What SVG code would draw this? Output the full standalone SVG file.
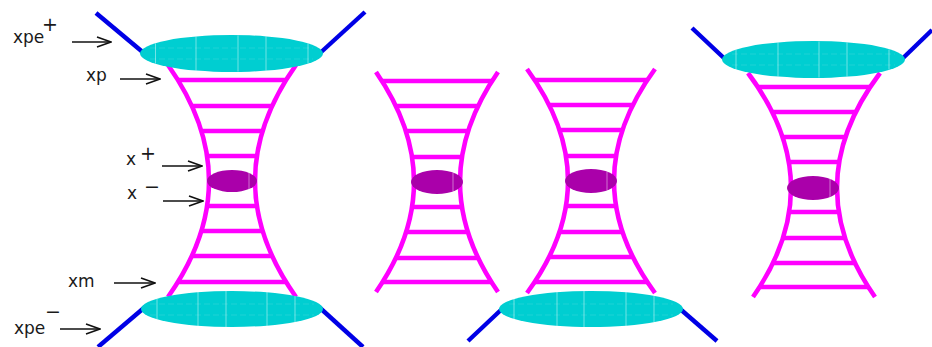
<svg xmlns="http://www.w3.org/2000/svg" width="932" height="347" viewBox="0 0 932 347">
<style>
.rail{fill:none;stroke:#FF00FF;stroke-width:4.6}
.rung{stroke:#FF00FF;stroke-width:4.4}
.leg{stroke:#0000E6;stroke-width:4.4;fill:none}
.blob{fill:#00CED1}
.grid{stroke:#FFFFFF;stroke-opacity:0.45;stroke-width:1}
.gridh{stroke:#FFFFFF;stroke-opacity:0.12;stroke-width:1;stroke-dasharray:6 3}
.core{fill:#AA00AA}
.lbl{font-family:"DejaVu Sans","Liberation Sans",sans-serif;font-size:17px;fill:#1a1a1a}
.sup{font-family:"DejaVu Sans","Liberation Sans",sans-serif;font-size:19px;fill:#1a1a1a}
.arw{stroke:#111;stroke-width:1.6;fill:none;marker-end:url(#arr)}
</style>
<defs>
<marker id="arr" markerUnits="userSpaceOnUse" markerWidth="16" markerHeight="12" refX="15" refY="6" orient="auto" viewBox="0 0 16 12">
<path d="M1,1 L15,6 L1,11" fill="none" stroke="#111" stroke-width="1.6"/>
</marker>
</defs>

<!-- Panel 1 -->
<g id="p1-legs">
<line class="leg" x1="96" y1="13" x2="145" y2="54"/>
<line class="leg" x1="365" y1="12" x2="319" y2="54"/>
<line class="leg" x1="98" y1="347" x2="145" y2="307"/>
<line class="leg" x1="363" y1="347" x2="319" y2="307"/>
</g>
<g id="p1-ladder">
<path class="rail" d="M168,65 Q209,123 209,181 Q209,239 168,297"/>
<path class="rail" d="M296,65 Q255,123 255,181 Q255,239 296,297"/>
<line class="rung" x1="178" y1="80" x2="286" y2="80"/>
<line class="rung" x1="192" y1="106" x2="272" y2="106"/>
<line class="rung" x1="201" y1="131" x2="263" y2="131"/>
<line class="rung" x1="207" y1="156" x2="257" y2="156"/>
<line class="rung" x1="207" y1="206" x2="257" y2="206"/>
<line class="rung" x1="201" y1="231" x2="263" y2="231"/>
<line class="rung" x1="192" y1="256" x2="272" y2="256"/>
<line class="rung" x1="178" y1="282" x2="286" y2="282"/>
</g>
<g id="p1-top-blob">
<ellipse class="blob" cx="231.5" cy="53.5" rx="91.5" ry="18.5"/>
<line class="grid" x1="155.5" y1="43.5" x2="155.5" y2="63.5"/>
<line class="grid" x1="196" y1="36.5" x2="196" y2="70.5"/>
<line class="grid" x1="238" y1="35.5" x2="238" y2="71.5"/>
<line class="grid" x1="266" y1="36.5" x2="266" y2="70.5"/>
<line class="grid" x1="308" y1="43.5" x2="308" y2="63.5"/>
<line class="gridh" x1="150" y1="48" x2="313" y2="48"/>
<line class="gridh" x1="150" y1="59" x2="313" y2="59"/>
</g>
<g id="p1-bottom-blob">
<ellipse class="blob" cx="232" cy="309" rx="91" ry="18"/>
<line class="grid" x1="157" y1="299" x2="157" y2="319"/>
<line class="grid" x1="198" y1="292" x2="198" y2="326"/>
<line class="grid" x1="226" y1="291" x2="226" y2="327"/>
<line class="grid" x1="267" y1="292" x2="267" y2="326"/>
<line class="grid" x1="295" y1="296" x2="295" y2="322"/>
<line class="gridh" x1="150" y1="304" x2="314" y2="304"/>
<line class="gridh" x1="150" y1="315" x2="314" y2="315"/>
</g>
<g id="p1-core">
<ellipse class="core" cx="232" cy="181" rx="25" ry="11"/>
<line class="grid" x1="249" y1="173" x2="249" y2="189"/>
</g>

<!-- Panel 2 -->
<g id="p2-ladder-left">
<path class="rail" d="M376,72 Q414,127 414,182 Q414,237 376,292"/>
<path class="rail" d="M498,72 Q460,127 460,182 Q460,237 498,292"/>
<line class="rung" x1="382" y1="81" x2="492" y2="81"/>
<line class="rung" x1="396" y1="106" x2="478" y2="106"/>
<line class="rung" x1="406" y1="131" x2="468" y2="131"/>
<line class="rung" x1="412" y1="157" x2="462" y2="157"/>
<line class="rung" x1="412" y1="207" x2="462" y2="207"/>
<line class="rung" x1="406" y1="232" x2="468" y2="232"/>
<line class="rung" x1="396" y1="258" x2="478" y2="258"/>
<line class="rung" x1="383" y1="282" x2="491" y2="282"/>
</g>
<g id="p2-core-left">
<ellipse class="core" cx="437" cy="182" rx="26" ry="12"/>
<line class="grid" x1="453" y1="173" x2="453" y2="191"/>
</g>
<g id="p2-legs">
<line class="leg" x1="468" y1="341" x2="503" y2="308"/>
<line class="leg" x1="717" y1="341" x2="679" y2="308"/>
</g>
<g id="p2-ladder-right">
<path class="rail" d="M527,69 Q568,125 568,181 Q568,237 527,293"/>
<path class="rail" d="M655,69 Q614,125 614,181 Q614,237 655,293"/>
<line class="rung" x1="535" y1="80" x2="647" y2="80"/>
<line class="rung" x1="549" y1="105" x2="633" y2="105"/>
<line class="rung" x1="559.5" y1="130" x2="622.5" y2="130"/>
<line class="rung" x1="566" y1="156" x2="616" y2="156"/>
<line class="rung" x1="566" y1="206" x2="616" y2="206"/>
<line class="rung" x1="559.5" y1="232" x2="622.5" y2="232"/>
<line class="rung" x1="549" y1="257" x2="633" y2="257"/>
<line class="rung" x1="535" y1="282" x2="647" y2="282"/>
</g>
<g id="p2-core-right">
<ellipse class="core" cx="591" cy="181" rx="26" ry="12"/>
<line class="grid" x1="607" y1="172" x2="607" y2="190"/>
</g>
<g id="p2-bottom-blob">
<ellipse class="blob" cx="591" cy="309" rx="92" ry="18"/>
<line class="grid" x1="514" y1="299" x2="514" y2="319"/>
<line class="grid" x1="557" y1="292" x2="557" y2="326"/>
<line class="grid" x1="584" y1="291" x2="584" y2="327"/>
<line class="grid" x1="626" y1="292" x2="626" y2="326"/>
<line class="grid" x1="654" y1="296" x2="654" y2="322"/>
<line class="gridh" x1="509" y1="304" x2="673" y2="304"/>
<line class="gridh" x1="509" y1="315" x2="673" y2="315"/>
</g>

<!-- Panel 3 -->
<g id="p3-legs">
<line class="leg" x1="692" y1="28" x2="726" y2="60"/>
<line class="leg" x1="932" y1="30" x2="901" y2="60"/>
</g>
<g id="p3-ladder">
<path class="rail" d="M748,73 Q791,130.5 791,188 Q791,242.5 753,297"/>
<path class="rail" d="M880,73 Q837,130.5 837,188 Q837,242.5 875,297"/>
<line class="rung" x1="758" y1="87" x2="870" y2="87"/>
<line class="rung" x1="772" y1="112" x2="856" y2="112"/>
<line class="rung" x1="782.5" y1="137" x2="845.5" y2="137"/>
<line class="rung" x1="789" y1="162" x2="839" y2="162"/>
<line class="rung" x1="789" y1="212" x2="839" y2="212"/>
<line class="rung" x1="783" y1="238" x2="845" y2="238"/>
<line class="rung" x1="773" y1="263" x2="855" y2="263"/>
<line class="rung" x1="760" y1="287" x2="868" y2="287"/>
</g>
<g id="p3-top-blob">
<ellipse class="blob" cx="813.5" cy="59.5" rx="91.5" ry="18.5"/>
<line class="grid" x1="736" y1="49.5" x2="736" y2="69.5"/>
<line class="grid" x1="778" y1="42.5" x2="778" y2="76.5"/>
<line class="grid" x1="819" y1="41.5" x2="819" y2="77.5"/>
<line class="grid" x1="847" y1="42.5" x2="847" y2="76.5"/>
<line class="grid" x1="889" y1="49.5" x2="889" y2="69.5"/>
<line class="gridh" x1="732" y1="54" x2="895" y2="54"/>
<line class="gridh" x1="732" y1="65" x2="895" y2="65"/>
</g>
<g id="p3-core">
<ellipse class="core" cx="813" cy="188" rx="26" ry="12"/>
<line class="grid" x1="830" y1="179" x2="830" y2="197"/>
</g>

<!-- Labels -->
<g id="label-xpe-plus">
<text class="lbl" x="13" y="43">xpe</text>
<text class="sup" x="42" y="31">+</text>
</g>
<g id="label-xp"><text class="lbl" x="86" y="81">xp</text></g>
<g id="label-x-plus">
<text class="lbl" x="126" y="165">x</text>
<text class="sup" x="140" y="160">+</text>
</g>
<g id="label-x-minus">
<text class="lbl" x="127" y="199">x</text>
<text class="sup" x="144" y="193">−</text>
</g>
<g id="label-xm"><text class="lbl" x="68" y="287">xm</text></g>
<g id="label-xpe-minus">
<text class="lbl" x="14" y="334">xpe</text>
<text class="sup" x="45" y="318">−</text>
</g>

<!-- Connectors -->
<g id="connectors">
<line class="arw" x1="72" y1="42" x2="111" y2="42"/>
<line class="arw" x1="120" y1="79" x2="160" y2="79"/>
<line class="arw" x1="162" y1="166" x2="202" y2="166"/>
<line class="arw" x1="163" y1="201" x2="203" y2="201"/>
<line class="arw" x1="114" y1="283" x2="155" y2="283"/>
<line class="arw" x1="60" y1="329" x2="100" y2="329"/>
</g>
</svg>
